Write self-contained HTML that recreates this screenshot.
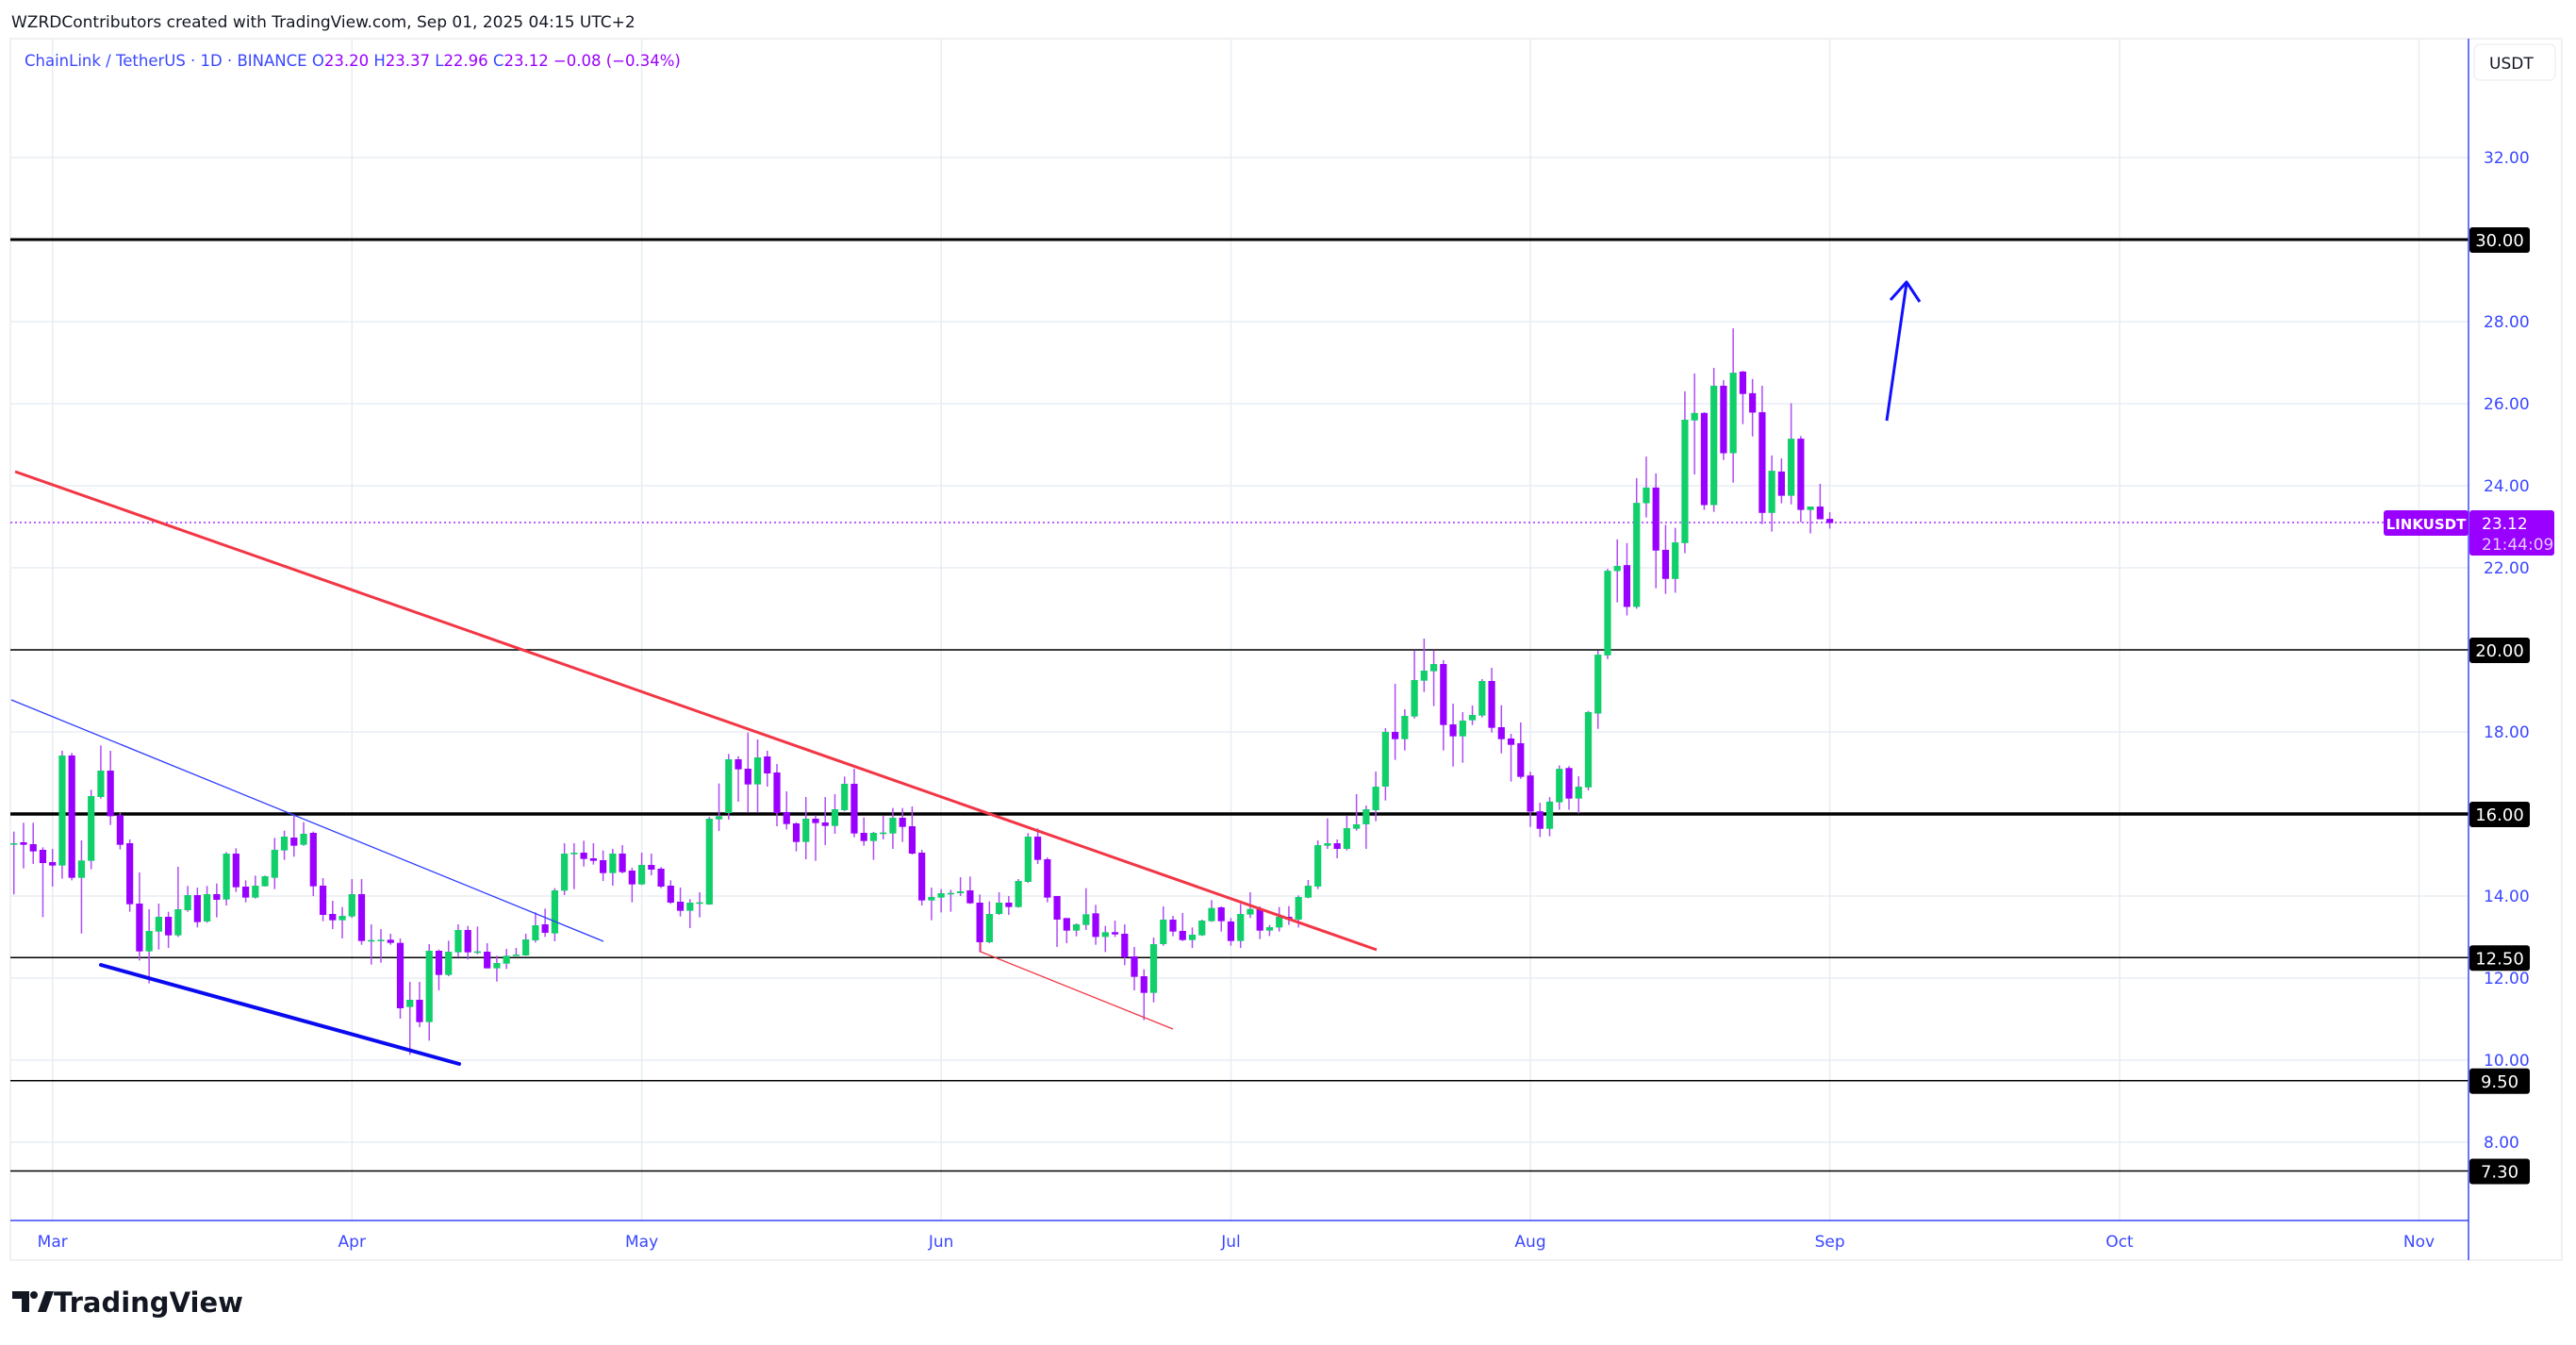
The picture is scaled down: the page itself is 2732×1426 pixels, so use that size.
<!DOCTYPE html>
<html><head><meta charset="utf-8">
<style>
html,body{margin:0;padding:0;background:#fff;width:2732px;height:1426px;overflow:hidden}
svg{display:block}
text{font-family:"DejaVu Sans","Liberation Sans",sans-serif}
</style></head><body>
<svg id="s" width="2732" height="1426" viewBox="0 0 2732 1426" xmlns="http://www.w3.org/2000/svg">
<rect x="0" y="0" width="2732" height="1426" fill="#fff"/>
<text x="12" y="29" font-size="17" fill="#131722">WZRDContributors created with TradingView.com, Sep 01, 2025 04:15 UTC+2</text>
<rect x="11" y="41" width="2706" height="1295" fill="#fff" stroke="#f0f1f3" stroke-width="2"/>
<g id="grid"></g>
<g id="lines"></g>
<g id="candles"></g>
<g id="draw"></g>
<text x="26" y="70" font-size="16.5"><tspan fill="#3a47ff">ChainLink / TetherUS · 1D · BINANCE </tspan><tspan fill="#3a47ff"> O</tspan><tspan fill="#9900ff">23.20 </tspan><tspan fill="#3a47ff"> H</tspan><tspan fill="#9900ff">23.37 </tspan><tspan fill="#3a47ff"> L</tspan><tspan fill="#9900ff">22.96 </tspan><tspan fill="#3a47ff"> C</tspan><tspan fill="#9900ff">23.12  −0.08 (−0.34%)</tspan></text>
<line x1="2618" y1="41" x2="2618" y2="1336" stroke="#3a47ff" stroke-width="1.5"/>
<line x1="11" y1="1294" x2="2618" y2="1294" stroke="#3a47ff" stroke-width="1.5"/>
<rect x="2624" y="47" width="86" height="38" rx="6" fill="#fff" stroke="#eef0f3" stroke-width="1.5"/>
<text x="2640" y="73" font-size="17" fill="#131722">USDT</text>
<g id="axis"></g>
<g fill="#131722">
<path d="M13 1369h18v22h-8v-14h-10z"/>
<circle cx="36" cy="1373" r="4"/>
<path d="M40 1391l8-22h9l-8 22z"/>
<text x="57" y="1391" font-family="Liberation Sans,sans-serif" font-size="29" font-weight="bold">TradingView</text>
</g>
</svg>
<script>
const NS="http://www.w3.org/2000/svg";
function el(p,t,a,txt){const e=document.createElementNS(NS,t);for(const k in a)e.setAttribute(k,a[k]);if(txt!==undefined)e.textContent=txt;document.getElementById(p).appendChild(e);return e;}
const Y=p=>254+(30-p)*43.5;
const X=d=>55.7+10.244*d;
[32,28,26,24,22,20,18,16,14,12,10,8].forEach(p=>el('grid','line',{x1:11,x2:2618,y1:Y(p),y2:Y(p),stroke:'#e8edf3','stroke-width':1.5}));
const months=[['Mar',0],['Apr',31],['May',61],['Jun',92],['Jul',122],['Aug',153],['Sep',184],['Oct',214],['Nov',245]];
months.forEach(m=>{const x=X(m[1]);el('grid','line',{x1:x,x2:x,y1:41,y2:1294,stroke:'#e8edf3','stroke-width':1.5});
el('axis','text',{x:x,y:1322,'font-size':17,fill:'#3a47ff','text-anchor':'middle'},m[0]);});
[32,28,26,24,22,18,14,12,10,8].forEach(p=>el('axis','text',{x:2634,y:Y(p)+6,'font-size':17,fill:'#3a47ff'},p.toFixed(2)));
[[30,3],[20,1.5],[16,3.5],[12.5,1.5],[9.5,1.5],[7.3,1.5]].forEach(l=>{
 el('lines','line',{x1:11,x2:2618,y1:Y(l[0]),y2:Y(l[0]),stroke:'#000','stroke-width':l[1]});
 el('axis','rect',{x:2619,y:Y(l[0])-13,width:64,height:27,rx:3,fill:'#000'});
 el('axis','text',{x:2651,y:Y(l[0])+7,'font-size':18,fill:'#fff','text-anchor':'middle'},l[0].toFixed(2));
});
el('lines','line',{x1:11,x2:2528,y1:554,y2:554,stroke:'#9900ff','stroke-width':1.3,'stroke-dasharray':'2,3'});
el('axis','rect',{x:2528,y:541,width:90,height:27,rx:3,fill:'#9900ff'});
el('axis','text',{x:2573,y:561,'font-size':15,fill:'#fff','text-anchor':'middle','font-weight':'bold'},'LINKUSDT');
el('axis','rect',{x:2619,y:541,width:90,height:48,rx:3,fill:'#9900ff'});
el('axis','text',{x:2632,y:561,'font-size':17,fill:'#fff'},'23.12');
el('axis','text',{x:2632,y:583,'font-size':17,fill:'#e6c9ff'},'21:44:09');
const Z1=[[-4,402,404,365,565,'g'],[-3,399,407,337,482,'p'],[-2,405,428,337,468,'p'],[-1,423,465,415,637,'p'],[0,462,473,420,540,'p'],[1,123,473,108,515,'g'],[2,123,512,115,520,'p'],[3,457,512,393,689,'g'],[4,252,458,232,485,'g'],[5,171,255,91,260,'g'],[6,171,316,108,344,'p'],[7,313,407,305,422,'p'],[8,402,596,390,620,'p'],[9,594,746,495,775,'p'],[10,681,746,612,848,'g'],[11,636,683,594,740,'g'],[12,636,695,620,735,'p'],[13,612,695,477,700,'g'],[14,567,615,538,620,'g'],[15,567,653,543,670,'p'],[16,564,651,538,655,'g'],[17,564,582,530,638,'p'],[18,435,581,430,600,'g'],[19,435,542,418,557,'p'],[20,540,575,520,590,'p'],[21,537,575,505,578,'g'],[22,507,539,505,540,'g'],[23,423,512,385,548,'g'],[24,381,425,362,455,'g'],[25,384,410,310,445,'p'],[26,372,407,335,410,'g'],[27,369,539,365,570,'p'],[28,537,630,513,650,'p'],[29,627,647,585,675,'p'],[30,633,647,605,705,'g'],[31,564,635,516,640,'g'],[32,564,713,516,725,'p'],[33,710,713,660,788,'g'],[34,709,713,675,782,'g'],[35,709,719,690,725,'p'],[36,719,927,705,960,'p'],[37,900,923,843,1075,'g'],[38,900,971,843,987,'p'],[39,744,971,723,1030,'g'],[40,744,821,740,870,'p'],[41,747,821,712,825,'g'],[42,678,749,660,765,'g'],[43,678,749,665,772,'p'],[44,746,749,667,755,'g'],[45,747,800,720,800,'p'],[46,783,800,760,842,'g'],[47,760,785,738,802,'g'],[48,756,759,735,760,'g'],[49,708,759,690,760,'g'],[50,663,711,622,718,'g'],[51,660,687,610,700,'p'],[52,552,689,545,714,'g'],[53,435,553,402,567,'g'],[54,432,437,402,548,'g'],[55,432,452,394,476,'p'],[56,450,458,402,470,'p'],[57,456,497,425,522,'p'],[58,435,497,420,537,'g'],[59,435,494,408,498,'p'],[60,489,533,480,590,'p'],[61,471,533,432,535,'g'],[62,471,486,435,504,'p']];
const Z2=[[63,483,540,478,545,'p'],[64,537,591,520,595,'p'],[65,588,617,543,635,'p'],[66,591,617,580,672,'g'],[67,590,593,558,638,'g'],[68,324,597,318,598,'g'],[69,316,326,212,363,'g'],[70,135,306,118,327,'g'],[71,135,167,125,270,'p'],[72,165,215,50,305,'p'],[73,129,215,72,305,'g'],[74,126,180,108,222,'p'],[75,177,306,150,348,'p'],[76,303,341,237,358,'p'],[77,339,398,336,428,'p'],[78,324,398,255,453,'g'],[79,324,338,313,458,'p'],[80,336,347,255,408,'p'],[81,294,347,246,372,'g'],[82,213,297,190,300,'g'],[83,213,371,165,383,'p'],[84,369,395,320,410,'p'],[85,369,395,366,455,'g'],[86,368,371,315,390,'g'],[87,321,371,290,420,'g'],[88,321,350,290,398,'p'],[89,348,435,285,438,'p'],[90,432,584,423,600,'p'],[91,573,584,543,647,'g'],[92,561,575,548,622,'g'],[93,560,563,550,620,'g'],[94,555,561,510,570,'g'],[95,552,593,508,595,'p'],[96,591,717,565,748,'p'],[97,627,717,587,720,'g'],[98,591,627,558,630,'g'],[99,591,605,570,630,'p'],[100,522,605,516,607,'g'],[101,381,525,370,528,'g'],[102,381,455,355,468,'p'],[103,453,575,447,590,'p'],[104,570,645,570,732,'p'],[105,640,680,640,720,'p'],[106,660,680,657,698,'g'],[107,628,662,545,678,'g'],[108,625,700,598,725,'p'],[109,685,700,665,748,'g'],[110,685,692,648,700,'p'],[111,690,765,660,790,'p'],[112,762,827,732,870,'p'],[113,825,878,803,965,'p'],[114,723,878,702,908,'g'],[115,645,723,603,728,'g'],[116,645,683,633,698,'p'],[117,681,710,624,713,'p'],[118,693,710,670,735,'g'],[119,648,695,645,697,'g'],[120,608,650,583,652,'g'],[121,606,650,603,683,'p'],[122,651,713,640,728,'p'],[123,627,713,595,735,'g'],[124,611,629,558,640,'g'],[125,611,680,603,707,'p'],[126,669,680,662,697,'g'],[127,636,670,605,683,'g'],[128,636,645,602,662,'p'],[129,573,645,568,670,'g'],[130,537,575,519,577,'g'],[131,408,540,393,548,'g']];
const Z6=[[132,882,890,803,900,'g'],[133,882,900,870,930,'p'],[134,834,900,795,905,'g'],[135,822,836,726,842,'g'],[136,774,822,762,900,'g'],[137,702,777,654,812,'g'],[138,528,702,516,746,'g'],[139,528,551,375,617,'p'],[140,477,551,456,587,'g'],[141,363,479,268,485,'g'],[142,333,365,231,401,'g'],[143,312,335,268,446,'g'],[144,312,506,300,587,'p'],[145,504,542,438,638,'p'],[146,492,542,465,626,'g'],[147,474,491,444,506,'g'],[148,366,476,360,482,'g'],[149,366,515,324,530,'p'],[150,513,551,443,596,'p'],[151,549,569,534,686,'p'],[152,564,671,498,677,'p']];
const Z4=[[153,1270,1367,1260,1408,'p'],[154,1366,1413,1343,1435,'p'],[155,1340,1413,1328,1433,'g'],[156,1252,1342,1243,1362,'g'],[157,1250,1332,1245,1362,'p'],[158,1300,1332,1272,1372,'g'],[159,1100,1302,1097,1310,'g'],[160,946,1104,935,1145,'g'],[161,721,948,716,958,'g'],[162,708,722,637,806,'g'],[163,706,818,647,841,'p'],[164,539,818,473,823,'g'],[165,498,540,415,578,'g'],[166,498,667,460,768,'p'],[167,665,743,598,783,'p'],[168,645,743,606,780,'g'],[169,316,647,240,674,'g'],[170,298,318,192,463,'g'],[171,298,545,296,558,'p'],[172,225,545,177,563,'g'],[173,225,406,210,424,'p'],[174,190,406,71,485,'g'],[175,187,247,185,328,'p'],[176,245,297,207,361,'p'],[177,296,566,225,596,'p'],[178,453,566,412,616,'g'],[179,455,520,420,540,'p'],[180,367,520,272,543,'g'],[181,367,558,360,591,'p'],[182,549,558,549,621,'g'],[183,549,583,488,583,'p'],[184,582,593,564,608,'p']];
function draw(arr,y0,k){arr.forEach(c=>{const x=X(c[0]);const t=y0+c[1]/k,b=y0+c[2]/k,wt=y0+c[3]/k,wb=y0+c[4]/k;
 el('candles','line',{x1:x,x2:x,y1:wt,y2:wb,stroke:'#b04cf5','stroke-width':1.5});
 el('candles','rect',{x:x-3.6,y:t,width:7.2,height:Math.max(1.6,b-t),fill:c[5]=='g'?'#11cf6a':'#9900ff'});});}
draw(Z1,760,3);draw(Z2,760,3);draw(Z6,600,3);draw(Z4,320,2.529);
el('draw','line',{x1:12,y1:742,x2:640,y2:998,stroke:'#2f3dff','stroke-width':1.3});
el('draw','line',{x1:107,y1:1023,x2:487,y2:1128,stroke:'#0a0af0','stroke-width':4,'stroke-linecap':'round'});
el('draw','line',{x1:16,y1:500,x2:1460,y2:1007,stroke:'#f23645','stroke-width':3});
el('draw','polyline',{points:'1040,999 1040,1009 1244,1091',fill:'none',stroke:'#f23645','stroke-width':1.3});
el('draw','line',{x1:2001,y1:446,x2:2022,y2:300,stroke:'#1010ff','stroke-width':3});
el('draw','polyline',{points:'2005,318 2022,299 2036,320',fill:'none',stroke:'#1010ff','stroke-width':3,'stroke-linejoin':'round'});
</script>
</body></html>
